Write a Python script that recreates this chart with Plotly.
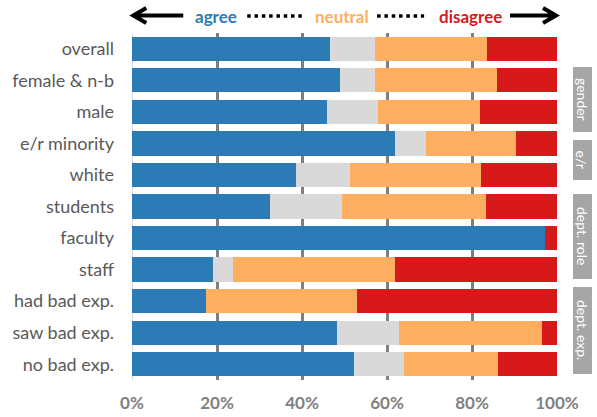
import plotly.graph_objects as go

categories = ["overall", "female & n-b", "male", "e/r minority", "white", "students",
              "faculty", "staff", "had bad exp.", "saw bad exp.", "no bad exp."]
agree = [46.5, 49.0, 45.8, 61.9, 38.5, 32.4, 97.2, 19.0, 17.5, 48.2, 52.3]
no_answer = [10.6, 8.1, 12.0, 7.2, 12.8, 17.0, 0.0, 4.7, 0.0, 14.7, 11.6]
neutral = [26.4, 28.7, 24.1, 21.3, 30.7, 33.8, 0.0, 38.2, 35.4, 33.5, 22.2]
disagree = [16.5, 14.2, 18.1, 9.6, 18.0, 16.8, 2.8, 38.1, 47.1, 3.6, 13.9]
tick_vals = [0, 20, 40, 60, 80, 100]
tick_text = ["0%", "20%", "40%", "60%", "80%", "100%"]
groups = ["gender", "e/r", "dept. role", "dept. exp."]

W, H = 597, 417
PL, PR, PT, PB = 131.7, 557.0, 33.0, 380.0   # plot area in pixels
PW, PH = PR - PL, PB - PT
FONT = "Lato"

def fx(px):
    return (px - PL) / PW

def fy(py):
    return (PB - py) / PH

def path(points):
    return " ".join(("M" if i == 0 else "L") + f" {fx(a):.5f},{fy(b):.5f}" for i, (a, b) in enumerate(points))

colors = ["#2c7bb6", "#d9d9d9", "#fdae61", "#d7191c"]
fig = go.Figure()
for name, vals, c in zip(["agree", "no answer", "neutral", "disagree"],
                         [agree, no_answer, neutral, disagree], colors):
    fig.add_trace(go.Bar(y=categories, x=vals, orientation="h", name=name,
                         marker=dict(color=c, line=dict(width=0))))

shapes = []
# header arrows
shapes.append(dict(type="path", xref="paper", yref="paper",
                   path=path([(183, 15.5), (134, 15.5)]) + " " + path([(146, 8), (133, 15.5), (146, 23)]),
                   line=dict(color="black", width=4)))
shapes.append(dict(type="path", xref="paper", yref="paper",
                   path=path([(510, 15.5), (555, 15.5)]) + " " + path([(543, 8), (556, 15.5), (543, 23)]),
                   line=dict(color="black", width=4)))
for a, b in [(247, 305), (377, 424)]:
    shapes.append(dict(type="line", xref="paper", yref="paper", x0=fx(a), x1=fx(b),
                       y0=fy(16), y1=fy(16), line=dict(color="black", width=3.5, dash="3.5px,3.8px")))
# group boxes
box_y = [(67, 132), (140, 180), (194, 279), (287, 374)]
annotations = []
for g, (y0, y1) in zip(groups, box_y):
    shapes.append(dict(type="rect", xref="paper", yref="paper", x0=fx(573), x1=fx(592),
                       y0=fy(y0), y1=fy(y1), fillcolor="#a6a6a6", line=dict(width=0), layer="above"))
    annotations.append(dict(xref="paper", yref="paper", x=fx(582.5), y=fy((y0 + y1) / 2),
                            text=g, showarrow=False, textangle=90,
                            font=dict(family=FONT, size=14, color="white"),
                            xanchor="center", yanchor="middle"))

for txt, cx, col in [("agree", 215.5, "#2c7bb6"), ("neutral", 342, "#fdae61"), ("disagree", 470, "#d7191c")]:
    annotations.append(dict(xref="paper", yref="paper", x=fx(cx), y=fy(16), text=f"<b>{txt}</b>",
                            showarrow=False, xanchor="center", yanchor="middle",
                            font=dict(family=FONT, size=17, color=col)))

fig.update_layout(
    width=W, height=H, barmode="stack", bargap=0.23, showlegend=False,
    margin=dict(l=PL, r=W - PR, t=PT, b=H - PB, pad=0, autoexpand=False),
    plot_bgcolor="white", paper_bgcolor="white", hovermode=False,
    shapes=shapes, annotations=annotations,
    xaxis=dict(range=[0, 100], tickvals=tick_vals, ticktext=tick_text,
               showgrid=True, gridcolor="#7f7f7f", gridwidth=2.5,
               zeroline=True, zerolinecolor="#d9d9d9", zerolinewidth=1,
               showline=False, ticks="", ticklabelstandoff=11, automargin=False,
               tickfont=dict(family=FONT, size=17, color="#808080", weight="bold")),
    yaxis=dict(categoryorder="array", categoryarray=categories, autorange="reversed",
               showgrid=False, zeroline=False, showline=False, ticks="",
               ticklabelstandoff=17, automargin=False,
               tickfont=dict(family=FONT, size=18, color="#595959")),
)
fig.write_html("out.html", config={"displayModeBar": False},
               post_script="document.body.style.margin='0';")
